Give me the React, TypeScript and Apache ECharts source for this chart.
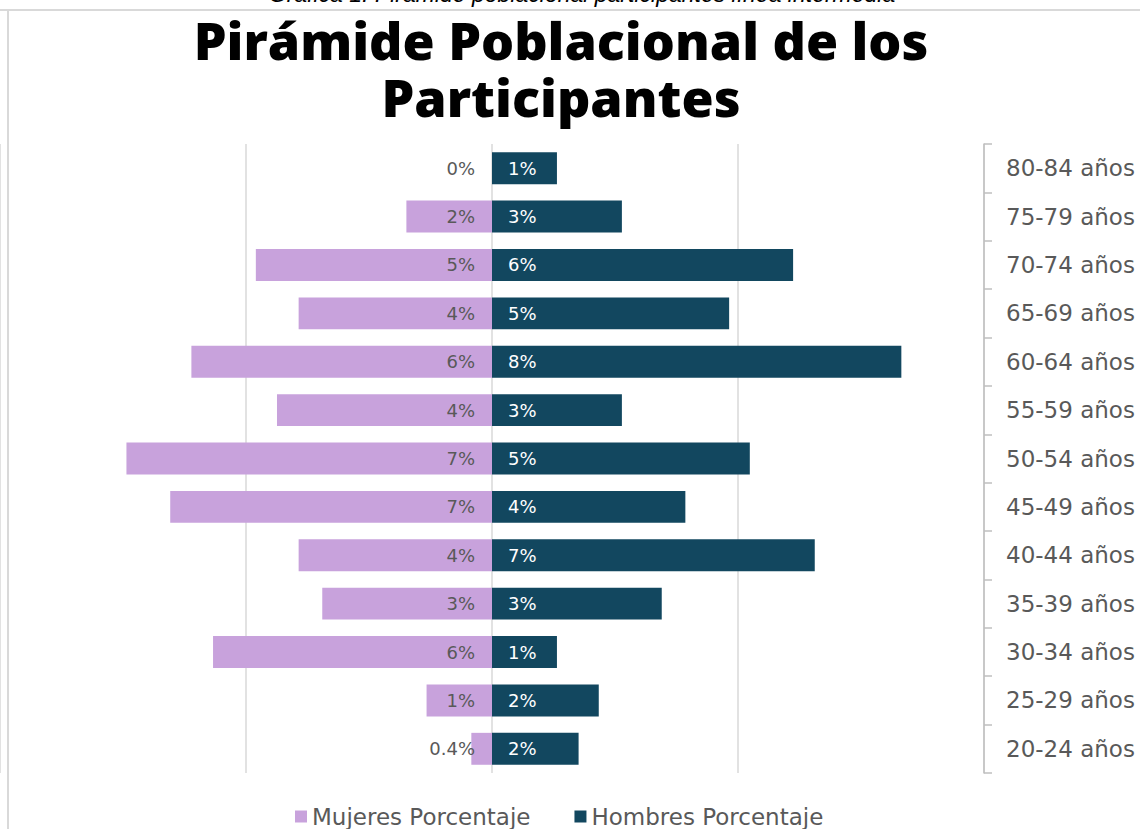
import React, { useEffect, useRef } from "react";
import * as echarts from "echarts";

const categories = [
  "80-84 años", "75-79 años", "70-74 años", "65-69 años", "60-64 años",
  "55-59 años", "50-54 años", "45-49 años", "40-44 años", "35-39 años",
  "30-34 años", "25-29 años", "20-24 años",
];
const mujeres = [0, 1.74, 4.8, 3.93, 6.11, 4.37, 7.43, 6.54, 3.93, 3.45, 5.67, 1.33, 0.42];
const hombres = [1.32, 2.64, 6.12, 4.82, 8.32, 2.64, 5.24, 3.93, 6.56, 3.45, 1.32, 2.17, 1.76];
const seriesNames = ["Mujeres Porcentaje", "Hombres Porcentaje"];
const titleText = "Pirámide Poblacional de los\nParticipantes";
const captionText = "Gráfica 1. Pirámide poblacional participantes línea intermedia";

const fmt = (v: number) => {
  const a = Math.abs(v);
  return a > 0 && a < 1 ? a.toFixed(1) + "%" : Math.round(a) + "%";
};

export default function App() {
  const ref = useRef<HTMLDivElement>(null);
  useEffect(() => {
    const chart = echarts.init(ref.current!, undefined, { renderer: "svg" });
    const labelFont = "DejaVu Sans";
    chart.setOption({
      animation: false,
      backgroundColor: "#ffffff",
      title: {
        text: titleText,
        left: 556,
        top: 6,
        textAlign: "center",
        textStyle: {
          fontFamily: "Open Sans",
          fontWeight: 800,
          fontSize: 52,
          lineHeight: 57,
          color: "#000000",
        },
      },
      graphic: [
        {
          type: "text",
          x: 582,
          y: 5,
          style: {
            text: captionText,
            fontFamily: "Liberation Sans",
            fontStyle: "italic",
            fontSize: 23,
            fill: "#000000",
            align: "center",
            verticalAlign: "bottom",
          },
        },
        { type: "line", shape: { x1: 0, y1: 10, x2: 1140, y2: 10 }, style: { stroke: "#D9D9D9", lineWidth: 2 } },
        { type: "line", shape: { x1: 8, y1: 10, x2: 8, y2: 829 }, style: { stroke: "#D9D9D9", lineWidth: 2 } },
      ],
      legend: {
        data: seriesNames,
        left: 290,
        bottom: -4,
        icon: "rect",
        itemWidth: 12,
        itemHeight: 12,
        itemGap: 44,
        textStyle: { fontFamily: labelFont, fontSize: 23, color: "#595959" },
      },
      grid: { left: -4, right: 156, top: 144, bottom: 56, containLabel: false },
      xAxis: {
        type: "value",
        min: -10,
        max: 10,
        interval: 5,
        axisLabel: { show: false },
        axisLine: { show: false },
        axisTick: { show: false },
        splitLine: { show: true, lineStyle: { color: "#D9D9D9", width: 1.5 } },
      },
      yAxis: {
        type: "category",
        data: categories,
        inverse: true,
        position: "right",
        axisLine: { show: true, onZero: false, lineStyle: { color: "#BFBFBF", width: 1.5 } },
        axisTick: { show: true, inside: false, length: 8, lineStyle: { color: "#BFBFBF", width: 1.5 } },
        axisLabel: { margin: 22, fontFamily: labelFont, fontSize: 23, color: "#595959" },
      },
      series: [
        {
          name: seriesNames[0],
          type: "bar",
          data: mujeres.map((v) => -v),
          barGap: "-100%",
          barCategoryGap: "34%",
          itemStyle: { color: "#C8A2DC" },
          label: {
            show: true,
            position: "insideRight",
            distance: 17,
            formatter: (p: any) => fmt(p.value),
            fontFamily: labelFont,
            fontSize: 18,
            color: "#595959",
          },
        },
        {
          name: seriesNames[1],
          type: "bar",
          data: hombres,
          barGap: "-100%",
          barCategoryGap: "34%",
          itemStyle: { color: "#12475F" },
          label: {
            show: true,
            position: "insideLeft",
            distance: 16,
            formatter: (p: any) => fmt(p.value),
            fontFamily: labelFont,
            fontSize: 18,
            color: "#FFFFFF",
          },
        },
      ],
    });
    return () => chart.dispose();
  }, []);
  return (
    <div
      ref={ref}
      style={{ position: "fixed", left: 0, top: 0, width: 1140, height: 829 }}
    />
  );
}
